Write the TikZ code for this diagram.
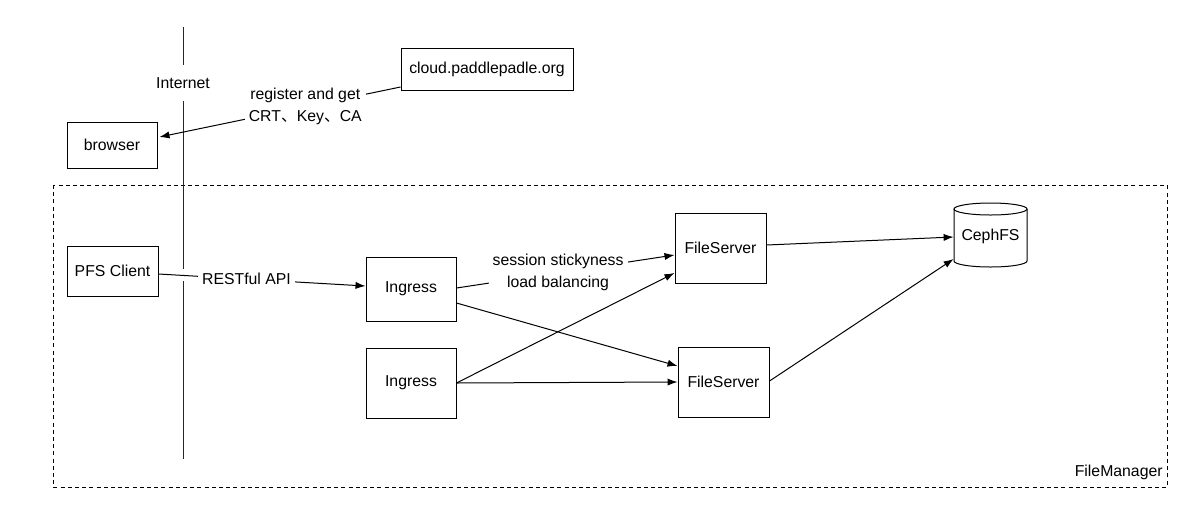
\documentclass[tikz,border=0pt]{standalone}
\usepackage{fontspec}
\setmainfont{Liberation Sans}
\newfontfamily\cjk{Noto Sans CJK SC}
\usetikzlibrary{arrows.meta}
\begin{document}
\begin{tikzpicture}[x=0.5pt,y=-0.5pt,
  every node/.style={font=\fontsize{7.9}{11}\selectfont},
  box/.style={draw, line width=0.5pt, minimum width=45pt, minimum height=35pt, inner sep=1pt},
  conn/.style={line width=0.5pt, -{Latex[length=5pt,width=3.6pt]}},
  plain/.style={line width=0.5pt},
  lbl/.style={fill=white, align=center, inner sep=2pt}]
\useasboundingbox (0,0) rectangle (1202,520);
% FileManager boundary
\draw[line width=0.5pt, dash pattern=on 2pt off 1.6pt] (53,185) rectangle (1167,487);
\node[anchor=east, inner sep=0pt] (fm) at (1163,472) {FileManager};
% internet line
\coordinate (vtop) at (183,27);
\coordinate (vbot) at (183,459);
\node[fill=white, inner xsep=1pt, inner ysep=0pt, minimum height=17.5pt] (internet) at (183,83) {Internet};
\node[inner sep=0pt, minimum width=1pt, minimum height=6pt] (gapA) at (183,275) {};
\draw[plain, black!85] (vtop) -- (internet) -- (gapA) -- (vbot);
% nodes
\node[box, minimum width=86pt, minimum height=21pt] (cloud) at (487,69) {cloud.paddlepadle.org};
\node[box, minimum width=45pt, minimum height=23pt] (browser) at (112,145) {browser};
\node[box, minimum width=45.5pt, minimum height=25pt] (pfs) at (112.5,271) {PFS Client};
\node[box, minimum width=45pt, minimum height=32pt] (ing1) at (411,289) {Ingress};
\node[box, minimum width=45pt, minimum height=35pt] (ing2) at (411,383) {Ingress};
\node[box, minimum width=45.5pt, minimum height=35pt] (fs1) at (720.5,248) {FileServer};
\node[box, minimum width=45.5pt, minimum height=35pt] (fs2) at (723.5,382) {FileServer};
% CephFS cylinder
\draw[line width=0.5pt, fill=white]
  (954,209) -- (954,261) arc[start angle=180, end angle=0, x radius=36.5, y radius=6]
  -- (1027,209);
\draw[line width=0.5pt] (990.5,209) ellipse[x radius=36.5, y radius=6];
\node[minimum width=36.5pt, minimum height=32pt, inner sep=0pt] (ceph) at (990.5,236) {CephFS};
% connectors
\draw[conn] ([yshift=-9pt]cloud.west) -- node[lbl, pos=0.395] (reg) {register and get\\CRT{\cjk 、}Key{\cjk 、}CA} ([xshift=1pt,yshift=4pt]browser.east);
\draw[conn] ([yshift=-1.5pt]pfs.east) -- node[lbl, pos=0.425] (rest) {RESTful API} ([yshift=1.5pt]ing1.west);
\draw[conn] ([yshift=0.5pt]ing1.east) -- node[lbl, pos=0.466] (sess) {session stickyness\\load balancing} ([yshift=-3.5pt]fs1.west);
\draw[conn] ([yshift=-7pt]ing1.east) -- ([yshift=8pt]fs2.west);
\draw[conn] (ing2.east) -- ([yshift=-12.5pt]fs1.west);
\draw[conn] (ing2.east) -- (fs2.west);
\draw[conn] ([yshift=1.5pt]fs1.east) -- ([yshift=-0.5pt]ceph.west);
\draw[conn] ([yshift=0.5pt]fs2.east) -- ([yshift=-11.5pt]ceph.west);
\end{tikzpicture}
\end{document}
